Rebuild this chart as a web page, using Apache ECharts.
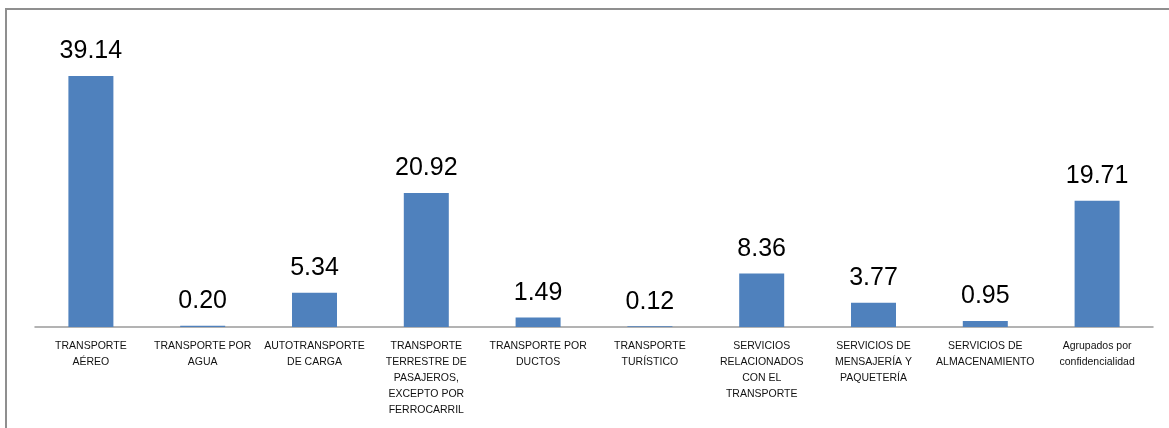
<!DOCTYPE html>
<html>
<head>
<meta charset="utf-8">
<script src="https://cdn.jsdelivr.net/npm/echarts@6/dist/echarts.min.js"></script>
<style>
  html, body { margin: 0; padding: 0; background: #fff; overflow: hidden; }
  #chart { position: absolute; left: 0; top: 0; width: 1169px; height: 428px; }
  .frame {
    position: absolute; left: 5px; top: 8px; width: 1200px; height: 500px;
    border: 2px solid #8f8f8f; pointer-events: none;
  }
</style>
</head>
<body>
<div id="chart"></div>
<div class="frame"></div>
<script>
// categories and values
const categories = [
  'TRANSPORTE\nAÉREO',
  'TRANSPORTE POR\nAGUA',
  'AUTOTRANSPORTE\nDE CARGA',
  'TRANSPORTE\nTERRESTRE DE\nPASAJEROS,\nEXCEPTO POR\nFERROCARRIL',
  'TRANSPORTE POR\nDUCTOS',
  'TRANSPORTE\nTURÍSTICO',
  'SERVICIOS\nRELACIONADOS\nCON EL\nTRANSPORTE',
  'SERVICIOS DE\nMENSAJERÍA Y\nPAQUETERÍA',
  'SERVICIOS DE\nALMACENAMIENTO',
  'Agrupados por\nconfidencialidad'
]
const values = [39.14, 0.20, 5.34, 20.92, 1.49, 0.12, 8.36, 3.77, 0.95, 19.71]

let myChart = echarts.init(document.getElementById('chart'))
myChart.setOption({
  animation: false,
  grid: {
    left: 35,
    right: 16,
    top: 38.5,
    bottom: 101
  },
  xAxis: {
    type: 'category',
    data: categories,
    axisLine: {
      lineStyle: { color: '#9a9a9a', width: 1.5 }
    },
    axisTick: { show: false },
    axisLabel: {
      interval: 0,
      margin: 11,
      color: '#111',
      fontFamily: 'Liberation Sans',
      fontSize: 10.5,
      lineHeight: 16
    }
  },
  yAxis: {
    type: 'value',
    min: 0,
    max: 45,
    show: false,
    splitLine: { show: false }
  },
  series: [
    {
      type: 'bar',
      data: values,
      barWidth: 45,
      itemStyle: {
        color: '#4f81bd'
      },
      label: {
        show: true,
        position: 'top',
        distance: 12,
        color: '#000',
        fontFamily: 'Liberation Sans',
        fontSize: 25,
        formatter: (p) => p.value.toFixed(2)
      }
    }
  ]
})
</script>
</body>
</html>
